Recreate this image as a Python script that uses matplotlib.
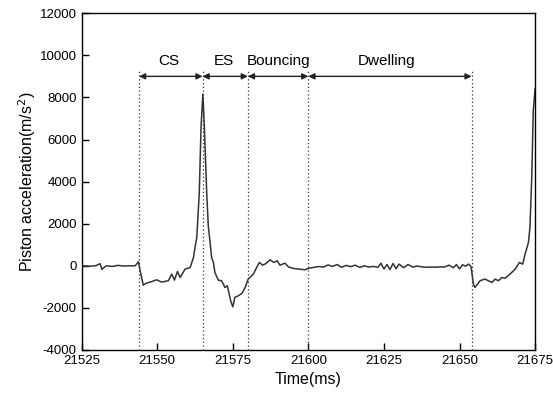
import numpy as np
import matplotlib.pyplot as plt

plt.rcParams['font.family'] = ['Liberation Sans', 'DejaVu Sans']
plt.rcParams['axes.unicode_minus'] = False

# acceleration du piston sur un cycle (ms, m/s^2)
temps = [21525, 21527.8, 21529.8, 21531.1, 21531.7, 21533.1, 21535.1, 21537.0,
         21539.0, 21541.0, 21542.7, 21543.8, 21544.3, 21545.4, 21546.5, 21548.0,
         21549.8, 21551.5, 21552.6, 21553.7, 21554.8, 21555.7, 21556.7, 21557.6,
         21559.2, 21560.9, 21562.0, 21562.5, 21563.1, 21563.5, 21563.9, 21564.5,
         21565.1, 21565.6, 21566.4, 21566.9, 21567.5, 21568.0, 21568.6, 21569.1,
         21570.2, 21571.3, 21572.4, 21573.2, 21574.3, 21575.0, 21575.7, 21576.8,
         21578.0, 21579.1, 21580.1, 21581.8, 21582.9, 21583.8, 21584.9, 21586.0,
         21587.3, 21588.6, 21589.7, 21590.6, 21592.3, 21593.4, 21595.0, 21597.2,
         21598.9, 21600.0, 21601.6, 21603.3,
         21605, 21606.5, 21608, 21609.5, 21611, 21612.5, 21614, 21615.5, 21617,
         21618.5, 21620, 21621.5, 21623, 21624, 21625, 21626, 21627, 21628, 21629,
         21630, 21631.5, 21633, 21634.5, 21636, 21637.5, 21639, 21640.5, 21642,
         21643.5, 21645, 21646.5, 21648, 21649, 21650, 21651, 21652, 21653, 21653.8,
         21654.6, 21655.1, 21656.8, 21658.4, 21660.7, 21661.8, 21662.9, 21664.0,
         21665.1, 21666.7, 21668.4, 21669.8, 21670.9, 21671.7, 21672.8, 21673.3,
         21673.9, 21674.4, 21675.0]
acc = [0, -20, 10, 100, -170, 0, -30, 20,
       -10, 0, 0, 190, -200, -920, -820, -760,
       -665, -775, -740, -710, -395, -680, -270, -555,
       -160, -80, 395, 870, 1345, 2400, 3400, 6570,
       8160, 6570, 3400, 1900, 1100, 395, 150, -320,
       -680, -710, -1030, -950, -1660, -1950, -1500, -1425,
       -1315, -1030, -630, -395, -80, 160, 30, 110,
       285, 160, 240, 30, 125, -50, -125, -160,
       -190, -125, -80, -35,
       -60, 40, -30, 60, -70, 20, -40, 30, -80,
       0, -60, -30, -70, 120, -150, 60, -180, 110, -140,
       80, -90, 60, -60, -10, -50, -70, -60, -70,
       -50, -60, 30, -90, 60, -150, 50, -20, 80, -30,
       -870, -1030, -710, -630, -790, -630, -710, -555,
       -590, -395, -160, 160, 80, 555, 1110, 1820,
       4200, 7365, 8400]

# limites des phases
limites = [21544, 21565, 21580, 21600, 21654]
phases = ['CS', 'ES', 'Bouncing', 'Dwelling']
pos_phases = [21554, 21572, 21590, 21626]

fig = plt.figure(figsize=(5.53, 4.0), dpi=100)
ax = fig.add_axes([0.1476, 0.125, 0.82, 0.842])

ax.plot(temps, acc, color='#333333', lw=1.1, solid_joinstyle='round')

for t in limites:
    ax.plot([t, t], [-4000, 9300], color='#333333', ls=(0, (1, 2)), lw=0.9)

for i in range(len(phases)):
    ax.annotate('', xy=(limites[i], 9000), xytext=(limites[i + 1], 9000),
                arrowprops=dict(arrowstyle='<|-|>', color='#222222', lw=1.0,
                                mutation_scale=9, shrinkA=0, shrinkB=0))
    ax.text(pos_phases[i], 9550, phases[i], ha='center', va='baseline', fontsize=11)

ax.set_xlim(21525, 21675)
ax.set_ylim(-4000, 12000)
ax.set_xticks(np.arange(21525, 21676, 25))
ax.set_yticks(np.arange(-4000, 12001, 2000))
ax.tick_params(direction='in', length=5, labelsize=9.5, width=1)
for s in ax.spines.values():
    s.set_linewidth(1.0)

ax.set_xlabel('Time(ms)', fontsize=11.5)
ax.set_ylabel('Piston acceleration(m/s$^2$)', fontsize=11.5, labelpad=1)

plt.savefig('out.png', dpi=100)
